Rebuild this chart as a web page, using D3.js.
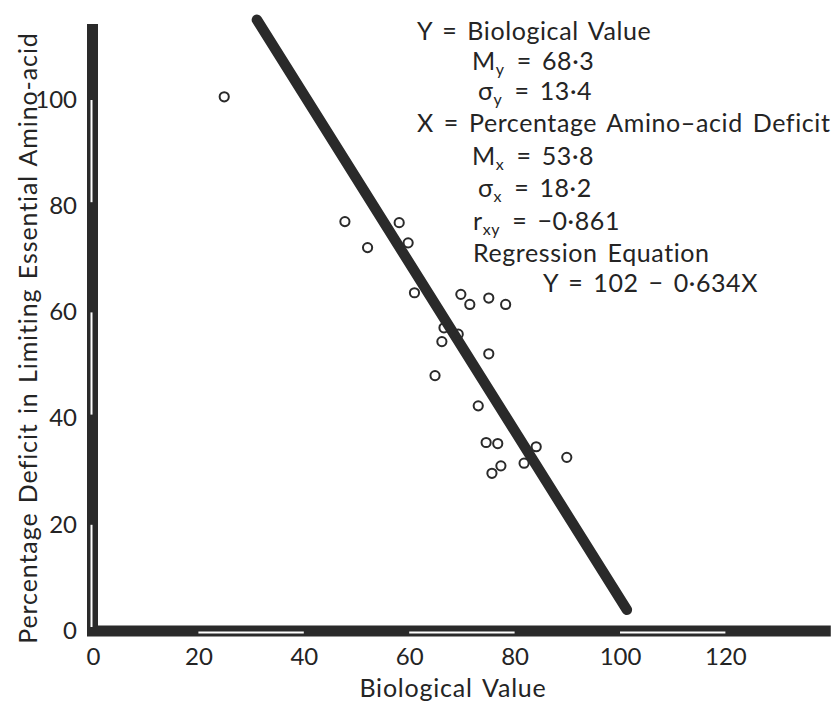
<!DOCTYPE html>
<html>
<head>
<meta charset="utf-8">
<script src="https://cdn.jsdelivr.net/npm/d3@7"></script>
<style>
  body { margin: 0; background: #fff; }
  svg text { font-family: Lato, "Open Sans", sans-serif; fill: #242424; }
</style>
</head>
<body>
<div id="chart"></div>
<script>
// Biological value (x) against % deficit of limiting amino-acid (y)
let bioValue = [24.9, 47.8, 58.1, 52.1, 59.8, 61.0, 69.8, 71.5, 75.1, 78.3, 66.6, 69.3,
  66.2, 75.1, 64.9, 73.1, 74.6, 76.8, 84.1, 89.9, 81.8, 77.4, 75.7];
let deficit = [100.6, 77.1, 76.9, 72.2, 73.1, 63.7, 63.4, 61.5, 62.7, 61.5, 57.1, 55.9,
  54.5, 52.2, 48.1, 42.4, 35.5, 35.3, 34.7, 32.7, 31.6, 31.1, 29.7];

// fitted line as drawn (ends)
let lineBio = [31.1, 101.3];
let lineDef = [115.1, 4.0];

let xTicks = [0, 20, 40, 60, 80, 100, 120];
let yTicks = [0, 20, 40, 60, 80, 100];
// stretches of the axes that carry a white inner line
let xWhite = [[20, 40], [60, 80], [100, 120]];
let yWhite = [[0, 20], [40, 60], [80, 100]];

let width = 831, height = 702;
let ink = "#2a2a2a";

let svg = d3.select("#chart").append("svg")
  .attr("width", width)
  .attr("height", height);

let x = d3.scaleLinear().domain([0, 120]).range([93, 725.4]);
let y = d3.scaleLinear().domain([0, 100]).range([631, 100]);

// axes drawn as heavy bars
svg.append("line")
  .attr("x1", x(0) - 6).attr("x2", x(140))
  .attr("y1", y(0)).attr("y2", y(0))
  .attr("stroke", ink).attr("stroke-width", 11);
svg.append("line")
  .attr("x1", x(0) - 0.5).attr("x2", x(0) - 0.5)
  .attr("y1", y(0) + 5).attr("y2", y(114.3))
  .attr("stroke", ink).attr("stroke-width", 11);

svg.append("g").selectAll("line")
  .data(xWhite)
  .join("line")
  .attr("x1", d => x(d[0])).attr("x2", d => x(d[1]))
  .attr("y1", y(0) + 1.5).attr("y2", y(0) + 1.5)
  .attr("stroke", "#fff").attr("stroke-width", 2);
svg.append("g").selectAll("line")
  .data(yWhite)
  .join("line")
  .attr("x1", x(0) - 1.5).attr("x2", x(0) - 1.5)
  .attr("y1", d => y(d[0]) - 4).attr("y2", d => y(d[1]))
  .attr("stroke", "#fff").attr("stroke-width", 2);

// tick labels
let xAxis = d3.axisBottom(x).tickValues(xTicks).tickSize(0).tickFormat(d3.format("d"));
let xAxisEl = svg.append("g").attr("transform", "translate(0," + y(0) + ")").call(xAxis);
xAxisEl.select(".domain").remove();
xAxisEl.selectAll("text")
  .attr("y", 34).attr("dy", null)
  .style("font-size", "24px").style("font-family", "Lato, sans-serif").attr("fill", "#242424");

let yAxis = d3.axisLeft(y).tickValues(yTicks).tickSize(0).tickFormat(d3.format("d"));
let yAxisEl = svg.append("g").attr("transform", "translate(" + x(0) + ",0)").call(yAxis);
yAxisEl.select(".domain").remove();
yAxisEl.selectAll("text")
  .attr("x", -16).attr("dy", "0.3em")
  .style("font-size", "24px").style("font-family", "Lato, sans-serif").attr("fill", "#242424");

// axis titles
svg.append("text")
  .attr("x", 453).attr("y", 697)
  .attr("text-anchor", "middle")
  .style("font-size", "25px")
  .style("letter-spacing", "0.8px")
  .style("word-spacing", "3px")
  .text("Biological Value");
svg.append("text")
  .attr("transform", "translate(37,338) rotate(-90)")
  .attr("text-anchor", "middle")
  .style("font-size", "25px")
  .style("letter-spacing", "0.9px")
  .style("word-spacing", "2px")
  .text("Percentage Deficit in Limiting Essential Amino-acid");

// regression line
svg.append("line")
  .attr("x1", x(lineBio[0])).attr("y1", y(lineDef[0]))
  .attr("x2", x(lineBio[1])).attr("y2", y(lineDef[1]))
  .attr("stroke", ink).attr("stroke-width", 10.5)
  .attr("stroke-linecap", "round");

// points
svg.append("g").selectAll("circle")
  .data(bioValue)
  .join("circle")
  .attr("cx", d => x(d))
  .attr("cy", (d, i) => y(deficit[i]))
  .attr("r", 4.6)
  .attr("fill", "none")
  .attr("stroke", ink)
  .attr("stroke-width", 2);

// statistics block
let note = svg.append("g")
  .style("font-size", "25px")
  .style("letter-spacing", "0.6px")
  .style("word-spacing", "3px");

function addLine(px, py, parts) {
  let t = note.append("text").attr("x", px).attr("y", py);
  parts.forEach(p => {
    if (typeof p === "string") {
      t.append("tspan").text(p);
    } else {
      t.append("tspan").attr("dy", 5).style("font-size", "16px").text(p.s);
      t.append("tspan").attr("dy", -5).text("\u200a");
    }
  });
}

addLine(417, 40, ["Y = Biological Value"]);
addLine(472, 70, ["M", { s: "y" }, " = 68·3"]);
addLine(478, 100, ["σ", { s: "y" }, " = 13·4"]);
addLine(417, 132, ["X = Percentage Amino\u2013acid Deficit"]);
addLine(472, 165, ["M", { s: "x" }, " = 53·8"]);
addLine(478, 197, ["σ", { s: "x" }, " = 18·2"]);
addLine(473, 230, ["r", { s: "xy" }, " = \u22120·861"]);
addLine(473, 262, ["Regression Equation"]);
addLine(543, 292, ["Y = 102 \u2212 0·634X"]);
</script>
</body>
</html>
